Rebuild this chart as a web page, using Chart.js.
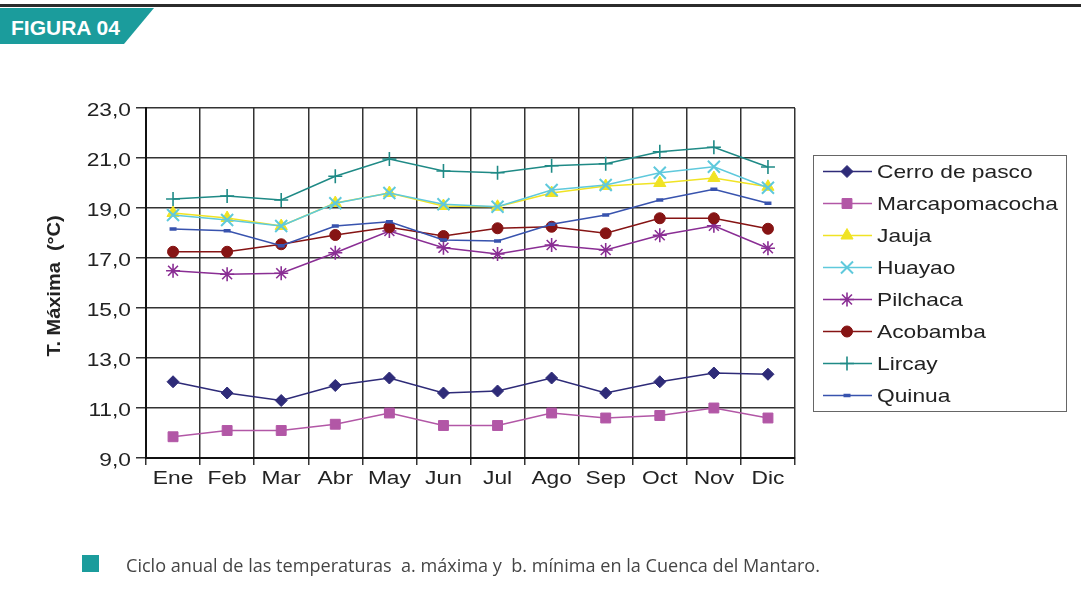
<!DOCTYPE html>
<html><head><meta charset="utf-8">
<script src="https://cdn.jsdelivr.net/npm/chart.js@4.4.1/dist/chart.umd.min.js"></script>
<style>
html,body{margin:0;padding:0;background:#fff;}
#wrap{position:relative;width:1081px;height:592px;overflow:hidden;background:#fff;}
#topline{position:absolute;left:0;top:4px;width:1081px;height:3px;background:#2b2b2b;}
#banner{position:absolute;left:0;top:8px;width:154px;height:36px;background:#1b9c9c;clip-path:polygon(0 0,100% 0,124px 100%,0 100%);}
#bannerText{position:absolute;left:11px;top:16px;line-height:21px;color:#fff;font:bold 21px "Liberation Sans",Arial,sans-serif;white-space:pre;}
#chartCanvas{position:absolute;left:0;top:0;}
#sq{position:absolute;left:82px;top:555px;width:17px;height:17px;background:#1b9c9c;}
#cap{position:absolute;left:126px;top:554px;line-height:22px;font-family:"Open Sans","Noto Sans",sans-serif;font-weight:400;font-size:18.5px;color:#454545;white-space:pre;transform-origin:0 50%;}
</style>
</head><body>
<div id="wrap">
  <div id="topline"></div>
  <div id="banner"></div>
  <div id="bannerText">FIGURA 04</div>
  <canvas id="chartCanvas" width="1081" height="592"></canvas>
  <div id="sq"></div>
  <div id="cap">Ciclo anual de las temperaturas  a. máxima y  b. mínima en la Cuenca del Mantaro.</div>
</div>
<script>
// ---- data ----
const months = ['Ene','Feb','Mar','Abr','May','Jun','Jul','Ago','Sep','Oct','Nov','Dic'];
const seriesNames = ['Cerro de pasco','Marcapomacocha','Jauja','Huayao','Pilchaca','Acobamba','Lircay','Quinua'];
const cerroDePasco   = [12.05, 11.6, 11.3, 11.9, 12.2, 11.6, 11.68, 12.2, 11.6, 12.05, 12.4, 12.35];
const marcapomacocha = [9.85, 10.1, 10.1, 10.35, 10.8, 10.3, 10.3, 10.8, 10.6, 10.7, 11.0, 10.6];
const jauja          = [18.8, 18.6, 18.28, 19.2, 19.6, 19.08, 19.05, 19.6, 19.88, 20.0, 20.2, 19.85];
const huayao         = [18.72, 18.52, 18.28, 19.19, 19.6, 19.15, 19.05, 19.72, 19.92, 20.41, 20.65, 19.81];
const pilchaca       = [16.49, 16.35, 16.39, 17.21, 18.08, 17.41, 17.16, 17.52, 17.32, 17.91, 18.29, 17.39];
const acobamba       = [17.25, 17.25, 17.55, 17.92, 18.23, 17.88, 18.19, 18.25, 17.99, 18.59, 18.59, 18.17];
const lircay         = [19.36, 19.48, 19.32, 20.27, 20.96, 20.48, 20.41, 20.69, 20.77, 21.25, 21.43, 20.64];
const quinua         = [18.16, 18.09, 17.49, 18.28, 18.45, 17.72, 17.68, 18.35, 18.72, 19.32, 19.75, 19.19];
const yMin = 9, yMax = 23, yStep = 2;
const yTitle = 'T. Máxima  (°C)';

// ---- styles ----
const seriesValues = [cerroDePasco, marcapomacocha, jauja, huayao, pilchaca, acobamba, lircay, quinua];
const styles = [
  {color:'#2e2b78', pointStyle:'rectRot', radius:6, bw:1},
  {color:'#b257a6', pointStyle:'rect', radius:7, bw:1},
  {color:'#f0e324', pointStyle:'triangle', radius:7, bw:1},
  {color:'#5fc9dc', pointStyle:'crossRot', radius:8.5, bw:2},
  {color:'#8a2e94', pointStyle:'star', radius:7, bw:1.6},
  {color:'#861414', pointStyle:'circle', radius:5.5, bw:1},
  {color:'#1f8a86', pointStyle:'cross', radius:7, bw:1.6},
  {color:'#3853ae', pointStyle:'line', radius:3.5, bw:3.5}
];
const LABEL_FONT = '18.5px "Liberation Sans", Arial, sans-serif';
const TITLE_FONT = 'bold 18px "Liberation Sans", Arial, sans-serif';
const STRETCH = 1.23;
const fmt = v => v.toFixed(1).replace('.', ',');

function stretchText(ctx, text, x, y, align, sx){
  ctx.save(); ctx.translate(x, y); ctx.scale(sx || STRETCH, 1);
  ctx.textAlign = align; ctx.fillText(text, 0, 0); ctx.restore();
}

const labelsPlugin = {
  id: 'labelsPlugin',
  afterDraw(chart){
    const ctx = chart.ctx, xs = chart.scales.x, ys = chart.scales.y, ca = chart.chartArea;
    ctx.save();
    ctx.fillStyle = '#222'; ctx.font = LABEL_FONT; ctx.textBaseline = 'middle';
    ys.ticks.forEach(t => stretchText(ctx, fmt(t.value), ca.left - 15, ys.getPixelForValue(t.value) + 3, 'right'));
    xs.ticks.forEach((t, i) => stretchText(ctx, xs.getLabelForValue(t.value), xs.getPixelForTick(i), ca.bottom + 21, 'center'));
    // y axis title
    ctx.save();
    ctx.font = TITLE_FONT; ctx.fillStyle = '#222';
    ctx.translate(55, (ca.top + ca.bottom) / 2 + 3);
    ctx.rotate(-Math.PI / 2);
    ctx.scale(1.11, 1);
    ctx.textAlign = 'center'; ctx.textBaseline = 'middle';
    ctx.fillText(yTitle, 0, 0);
    ctx.restore();
    // legend
    ctx.font = LABEL_FONT;
    const bx = ca.right + 18, by = 155, bw = 253, bh = 256, rowH = 32, y0 = 171.5;
    ctx.strokeStyle = '#666'; ctx.lineWidth = 1;
    ctx.strokeRect(bx + 0.5, by + 0.5, bw, bh);
    chart.data.datasets.forEach((ds, i) => {
      const y = y0 + i * rowH;
      ctx.strokeStyle = ds.borderColor; ctx.lineWidth = 1.5;
      ctx.beginPath(); ctx.moveTo(bx + 10, y); ctx.lineTo(bx + 59, y); ctx.stroke();
      ctx.fillStyle = ds.pointBackgroundColor; ctx.strokeStyle = ds.pointBorderColor; ctx.lineWidth = ds.pointBorderWidth;
      Chart.helpers.drawPoint(ctx, {pointStyle: ds.pointStyle, radius: ds.pointRadius, borderWidth: ds.pointBorderWidth, rotation: 0}, bx + 34, y);
      ctx.fillStyle = '#222';
      stretchText(ctx, ds.label, bx + 64, y + 1, 'left');
    });
    ctx.restore();
  }
};

const datasets = seriesNames.map((name, i) => ({
  label: name,
  data: seriesValues[i],
  borderColor: styles[i].color,
  backgroundColor: styles[i].color,
  borderWidth: 1.6,
  pointStyle: styles[i].pointStyle,
  pointRadius: styles[i].radius,
  pointHoverRadius: styles[i].radius,
  pointBackgroundColor: styles[i].color,
  pointBorderColor: styles[i].color,
  pointBorderWidth: styles[i].bw,
  tension: 0,
  order: 7 - i
}));

new Chart(document.getElementById('chartCanvas'), {
  type: 'line',
  data: { labels: months, datasets },
  options: {
    responsive: false, animation: false, devicePixelRatio: 1,
    layout: { padding: { left: 0, top: 108, right: 286, bottom: 94 } },
    plugins: { legend: { display: false }, tooltip: { enabled: false } },
    scales: {
      x: {
        type: 'category', offset: true,
        grid: { offset: true, color: '#333', lineWidth: 1.5, tickLength: 7, drawTicks: true },
        border: { display: true, color: '#111', width: 2 },
        ticks: { display: false },
        afterFit: s => { s.height = 40; }
      },
      y: {
        min: yMin, max: yMax,
        ticks: { display: false, stepSize: yStep },
        grid: { color: '#333', lineWidth: 1.5, tickLength: 10 },
        border: { display: true, color: '#111', width: 2 },
        title: { display: false, text: yTitle },
        afterFit: s => { s.width = 146; }
      }
    }
  },
  plugins: [labelsPlugin]
});

// fit caption width
(function(){
  const cap = document.getElementById('cap');
  const w = cap.getBoundingClientRect().width;
  cap.style.transform = 'scaleX(' + (694 / w) + ')';
})();
</script>
</body></html>
